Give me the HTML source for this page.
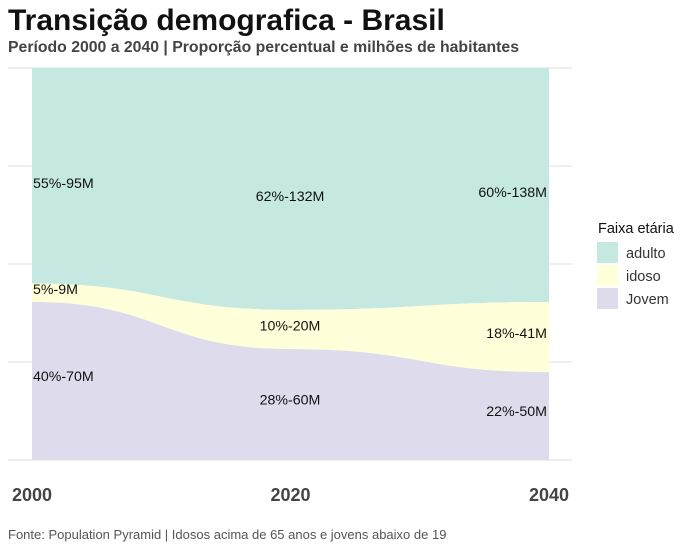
<!DOCTYPE html>
<html><head><meta charset="utf-8"><style>
body{margin:0;background:#fff;font-family:"Liberation Sans",sans-serif}
</style></head><body>
<svg width="683" height="546" xmlns="http://www.w3.org/2000/svg" font-family="Liberation Sans, sans-serif">
<text x="8" y="30" font-size="30" font-weight="bold" fill="#111">Transição demografica - Brasil</text>
<text x="8" y="52" font-size="15.8" font-weight="bold" fill="#444">Período 2000 a 2040 | Proporção percentual e milhões de habitantes</text>
<g id="grid"></g>
<g id="areas"></g>
<g id="labels"></g>
<g id="xaxis"></g>
<g>
<text x="598" y="233" font-size="14.5" fill="#111">Faixa etária</text>
<rect x="597" y="242" width="21" height="21" fill="#c5e9e1"/>
<text x="626" y="258" font-size="14.5" fill="#333">adulto</text>
<rect x="597" y="265" width="21" height="21" fill="#ffffd9"/>
<text x="626" y="281" font-size="14.5" fill="#333">idoso</text>
<rect x="597" y="288" width="21" height="21" fill="#dedbec"/>
<text x="626" y="304" font-size="14.5" fill="#333">Jovem</text>
</g>
<text x="8" y="539" font-size="13" fill="#555">Fonte: Population Pyramid | Idosos acima de 65 anos e jovens abaixo de 19</text>
</svg>
<script>
const years=[2000,2020,2040];
const jovemPct=[40.3,28.3,22.4];
const idosoPct=[4.7,10,17.9];
const jovemLbl=["40%-70M","28%-60M","22%-50M"];
const idosoLbl=["5%-9M","10%-20M","18%-41M"];
const adultoLbl=["55%-95M","62%-132M","60%-138M"];
const yTicks=[0,25,50,75,100];
const NS="http://www.w3.org/2000/svg";
const x=v=>32+(v-2000)/40*517;
const y=v=>460-v/100*392;
function mk(t,a,p){const e=document.createElementNS(NS,t);for(const k in a)e.setAttribute(k,a[k]);document.getElementById(p).appendChild(e);return e;}
yTicks.forEach(t=>{const l=mk('line',{x1:8,x2:572,y1:y(t),y2:y(t),stroke:'#e0e0e0','stroke-width':1},'grid');

});
function curve(vals,rev){let pts=years.map((yr,i)=>[x(yr),y(vals[i])]);if(rev)pts=pts.reverse();
let d='';for(let i=1;i<pts.length;i++){const [x0,y0]=pts[i-1],[x1,y1]=pts[i];const m=(x0+x1)/2;d+=` C${m},${y0} ${m},${y1} ${x1},${y1}`;}return {start:pts[0],d};}
function band(lo,hi,fill,name){const top=curve(hi,false),bot=curve(lo,true);
const d=`M${top.start[0]},${top.start[1]}${top.d} L${bot.start[0]},${bot.start[1]}${bot.d} Z`;
const p=mk('path',{d,fill},'areas');

}
const zero=years.map(()=>0),idTop=years.map((_,i)=>jovemPct[i]+idosoPct[i]),full=years.map(()=>100);
band(idTop,full,'#c5e9e1','area-adulto');
band(jovemPct,idTop,'#ffffd9','area-idoso');
band(zero,jovemPct,'#dedbec','area-jovem');
const anchors=['start','middle','end'],lx=[33,290,547];
function labels(lo,hi,txt,name,off){years.forEach((yr,i)=>{const t=mk('text',{x:lx[i],y:y((lo[i]+hi[i])/2)+5+off,'font-size':14.2,fill:'#111','text-anchor':anchors[i]},'labels');t.textContent=txt[i];

});}
labels(zero,jovemPct,jovemLbl,'label-jovem',-5);
labels(jovemPct,idTop,idosoLbl,'label-idoso',-4);
labels(idTop,full,adultoLbl,'label-adulto',7);
years.forEach(yr=>{const t=mk('text',{x:x(yr),y:501,'font-size':18,'font-weight':'bold',fill:'#444','text-anchor':'middle'},'xaxis');t.textContent=yr;

});
</script>
</body></html>
